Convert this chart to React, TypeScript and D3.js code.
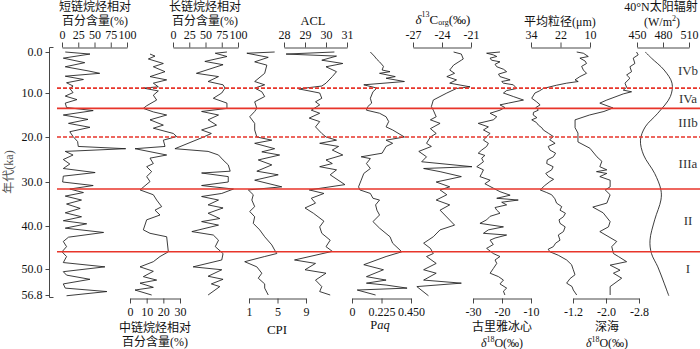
import * as d3 from "d3";
import { useRef, useEffect } from "react";

type Pt = [number, number]; // [age ka, value]

const FONT = "'Liberation Serif','Times New Roman','Noto Sans CJK SC',serif";

// left axis
const ageTicks = [0, 10, 20, 30, 40, 50, 56.8];
// stage boundaries (ka), dashed = sub-stage boundary
const boundaryAges = [8.8, 13.5, 20, 31.6, 46];
const boundaryDashed = [true, false, true, false, false];
const stageNames = ["IVb", "IVa", "IIIb", "IIIa", "II", "I"];

// tick values / labels of each panel
const shortTicks = [0, 25, 50, 75, 100];
const midTicks = [0, 10, 20, 30];
const longTicks = [0, 25, 50, 75, 100];
const cpiTicks = [1, 5, 9];
const aclTicks = [28, 29, 30, 31];
const paqTicks = [0, 0.225, 0.45];
const paqTickLabels = ["0", "0.225", "0.450"];
const d13cTicks = [-27, -24, -21];
const guliyaTicks = [-30, -20, -10];
const grainTicks = [34, 22, 10];
const deepTicks = [-1.2, -2.0, -2.8];
const deepTickLabels = ["-1.2", "-2.0", "-2.8"];
const insolTicks = [450, 480, 510];

// short-chain n-alkanes (%)
const shortChain: Pt[] = [
  [0, 5], [0.5, 43], [1.5, 2], [2.6, 35], [3.6, 5], [4.6, 40], [5.2, 58], [5.9, 5], [6.7, 33],
  [7.5, 7], [8.3, 17], [8.9, 12], [9.9, 17], [10.7, 5], [11.5, 23], [12.3, 5], [13.3, 7], [14.0, 48],
  [15.0, 2], [16.0, 40], [16.9, 10], [17.8, 43], [18.8, 12], [19.9, 17], [21.0, 24], [22.1, 25],
  [22.6, 98], [23.2, 5], [24.0, 17], [25.0, 2], [26.0, 12], [27.0, 2], [27.9, 51], [28.7, 2],
  [30.0, 1], [30.8, 48], [31.6, 12], [32.4, 33], [33.2, 5], [34.1, 30], [35.0, 7], [36.0, 28],
  [37.0, 5], [37.9, 30], [38.8, 2], [39.5, 38], [40.5, 5], [41.5, 64], [42.6, 10], [43.6, 2],
  [44.8, 7], [46.0, 0], [47.1, 7], [48.5, 2], [49.5, 66], [50.7, 2], [51.6, 7], [52.7, 43],
  [53.9, 2], [55.0, 5], [55.9, 69], [57.0, 7],
];

// mid-chain n-alkanes (%)
const midChain: Pt[] = [
  [0.5, 12], [1.0, 15], [1.7, 11], [2.8, 20], [3.6, 14], [4.8, 21], [6.0, 12], [6.8, 22], [7.6, 14],
  [8.5, 17], [8.8, 8], [9.5, 17], [10.5, 14], [11.6, 16], [12.9, 10], [13.5, 8], [14.3, 14],
  [15.0, 22], [16.1, 12], [17.3, 20], [18.0, 14], [19.2, 26], [19.9, 28], [20.7, 20], [22.1, 21],
  [22.6, 3], [24.0, 22], [24.7, 12], [25.9, 14], [26.6, 10], [27.7, 13], [28.8, 10], [29.9, 12],
  [31.8, 6], [32.9, 14], [34.1, 16], [35.6, 19], [36.4, 15], [37.5, 18], [38.6, 10], [40.9, 8],
  [41.7, 12], [42.5, 22], [46.0, 23], [47.1, 18], [48.3, 14], [49.5, 6], [50.6, 14], [52.0, 8],
  [52.9, 16], [53.7, 6], [54.8, 14], [55.5, 3], [56.8, 13],
];

// long-chain n-alkanes (%)
const longChain: Pt[] = [
  [0, 83], [0.3, 65], [1.1, 83], [2.3, 49], [3.1, 77], [5.2, 36], [6.0, 70], [7.2, 54], [8.0, 77],
  [8.8, 80], [10.0, 75], [11.2, 62], [12.3, 83], [13.5, 83], [14.2, 44], [15.0, 70], [16.1, 54],
  [17.3, 67], [18.4, 44], [19.2, 59], [20.0, 47], [22.6, 3], [23.2, 54], [24.0, 70], [25.1, 77],
  [26.2, 85], [27.6, 88], [28.0, 44], [28.8, 85], [30.0, 85], [30.8, 44], [31.6, 93], [32.6, 75],
  [33.3, 44], [34.1, 70], [35.2, 54], [35.9, 77], [37.1, 54], [38.3, 72], [39.0, 44], [39.8, 70],
  [41.3, 29], [42.1, 62], [43.3, 70], [44.8, 65], [46.4, 77], [47.9, 75], [49.5, 31], [50.2, 75],
  [51.9, 54], [52.7, 77], [53.9, 59], [54.6, 72], [56.8, 54],
];

// CPI
const cpi: Pt[] = [
  [0, 4.6], [0.3, 0.7], [1.3, 3.7], [2.4, 1.8], [3.2, 3.5], [5.2, 3.2], [7.2, 1.8], [8.0, 3.2],
  [8.8, 1.8], [9.7, 2.8], [10.8, 3.2], [12.0, 1.8], [13.5, 2.1], [14.2, 1.8], [15.4, 1.1],
  [16.9, 1.8], [18.4, 1.8], [20.0, 2.1], [20.7, 4.2], [21.4, 1.8], [22.6, 4.6], [23.3, 2.8],
  [24.0, 5.3], [25.1, 2.3], [26.2, 4.2], [27.6, 2.1], [28.4, 5.1], [29.6, 1.8], [31.1, 5.6],
  [31.8, 0.9], [32.9, 1.6], [34.1, 1.4], [35.6, 1.8], [36.7, 1.1], [37.9, 1.8], [39.4, 1.6],
  [40.9, 2.5], [42.5, 3.2], [44.4, 4.2], [45.6, 4.6], [46.4, 4.9], [47.1, 3.2], [48.3, 0.4],
  [49.5, 2.1], [51.1, 2.8], [52.4, 2.3], [53.9, 3.2], [55.0, 3.2], [56.8, 3.7],
];

// ACL
const acl: Pt[] = [
  [0, 30.4], [0.5, 28.1], [1.0, 30.5], [2.0, 29.8], [2.8, 30.8], [3.6, 30.0], [4.8, 30.5], [6.0, 30.3],
  [7.6, 30.0], [8.3, 29.8], [9.0, 28.7], [10.0, 29.7], [11.2, 29.8], [12.0, 29.5], [12.7, 29.7],
  [13.9, 29.3], [14.6, 29.7], [15.7, 29.2], [16.5, 29.7], [17.7, 29.5], [19.2, 29.8], [20.0, 30.0],
  [20.7, 30.5], [21.4, 29.7], [22.1, 30.6], [22.9, 30.3], [24.0, 30.8], [25.1, 30.0], [25.9, 30.3],
  [26.6, 29.7], [27.3, 30.5], [28.4, 30.2], [30.6, 30.9], [31.8, 29.2], [32.6, 29.9], [33.7, 29.3],
  [34.8, 29.5], [35.9, 29.0], [37.1, 29.4], [38.9, 29.9], [40.2, 29.7], [41.7, 29.8], [43.3, 30.2],
  [44.8, 30.0], [45.9, 30.3], [47.9, 28.5], [48.7, 29.5], [50.2, 29.0], [51.1, 30.0], [52.9, 29.5],
  [54.6, 29.8], [55.9, 29.7], [56.8, 30.2],
];

// Paq
const paq: Pt[] = [
  [0, 0.14], [1.0, 0.17], [1.8, 0.19], [2.4, 0.21], [3.5, 0.24], [4.4, 0.23], [4.8, 0.29], [5.2, 0.21],
  [6.0, 0.33], [6.4, 0.26], [7.2, 0.40], [8.0, 0.09], [8.8, 0.19], [9.7, 0.16], [11.2, 0.14],
  [12.3, 0.15], [13.1, 0.12], [13.9, 0.11], [14.6, 0.21], [15.4, 0.26], [16.5, 0.28], [17.7, 0.26],
  [18.4, 0.31], [20.0, 0.40], [20.7, 0.26], [21.4, 0.31], [22.1, 0.26], [23.6, 0.23], [24.4, 0.07],
  [24.8, 0.14], [25.9, 0.11], [27.0, 0.14], [28.1, 0.09], [29.6, 0.07], [31.1, 0.05], [31.8, 0.06],
  [32.6, 0.14], [33.7, 0.16], [34.1, 0.21], [35.2, 0.18], [36.4, 0.19], [37.5, 0.21], [39.0, 0.16],
  [40.5, 0.21], [42.5, 0.29], [44.0, 0.31], [46.0, 0.38], [47.1, 0.26], [49.0, 0.09], [50.2, 0.24],
  [52.0, 0.11], [52.9, 0.26], [53.7, 0.11], [54.2, 0.26], [55.0, 0.42], [55.5, 0.04], [56.8, 0.18],
];

// δ13C org (‰)
const d13c: Pt[] = [
  [0, -22.8], [0.5, -22.0], [1.7, -21.8], [2.0, -22.0], [3.2, -22.8], [4.4, -23.2], [5.2, -22.7],
  [6.0, -23.5], [6.8, -22.5], [7.6, -23.2], [8.5, -21.1], [8.9, -22.5], [10.0, -23.5], [11.6, -24.9],
  [13.1, -25.1], [13.9, -24.9], [15.4, -24.6], [16.1, -25.2], [16.9, -24.2], [18.1, -25.2],
  [19.2, -24.6], [20.0, -25.2], [21.4, -25.6], [22.1, -25.1], [23.2, -26.4], [24.4, -25.6],
  [25.5, -26.1], [26.6, -20.9], [27.0, -25.9], [27.7, -24.2], [28.8, -22.0], [30.0, -24.6],
  [31.1, -23.2], [31.8, -24.2], [32.9, -23.5], [34.1, -24.6], [35.2, -23.2], [36.4, -24.2],
  [39.8, -22.7], [40.9, -24.2], [42.5, -24.9], [44.0, -25.9], [45.2, -25.2], [46.4, -24.9],
  [47.1, -25.6], [48.7, -24.6], [50.2, -25.9], [51.1, -24.6], [52.9, -25.9], [53.7, -22.0],
  [54.6, -26.6], [57.0, -25.4],
];

// Guliya ice core δ18O (‰)
const guliya: Pt[] = [
  [0, -20.7], [0.3, -25.3], [0.7, -23.0], [1.1, -21.8], [1.5, -24.1], [2.0, -23.6], [2.4, -20.7],
  [3.0, -22.4], [3.6, -21.8], [4.2, -19.5], [4.8, -18.4], [5.4, -21.2], [6.0, -20.7], [6.4, -18.9],
  [6.8, -17.2], [7.2, -20.1], [7.6, -19.5], [8.0, -16.1], [8.9, -14.9], [9.4, -18.4], [10.0, -19.5],
  [10.8, -16.1], [11.6, -12.6], [12.3, -17.8], [12.7, -20.7], [13.3, -19.0], [13.9, -20.7],
  [14.6, -24.1], [15.4, -21.8], [16.1, -23.0], [16.9, -28.2], [17.7, -24.7], [18.4, -26.4],
  [19.2, -24.1], [19.9, -25.3], [20.7, -26.4], [21.4, -24.7], [22.1, -25.3], [22.9, -27.0],
  [23.6, -28.2], [24.1, -25.9], [24.7, -27.0], [25.5, -26.4], [26.6, -28.7], [27.3, -26.4],
  [28.1, -27.0], [28.8, -27.6], [29.6, -24.1], [30.4, -25.9], [31.4, -23.0], [32.2, -20.7],
  [33.0, -17.2], [33.7, -21.8], [34.1, -14.4], [34.6, -20.1], [35.2, -18.4], [35.8, -22.4],
  [36.4, -21.8], [37.1, -20.7], [37.8, -24.1], [38.6, -25.3], [39.4, -27.6], [40.2, -19.5],
  [40.9, -24.7], [41.7, -26.4], [42.1, -18.4], [42.8, -22.4], [43.3, -24.1], [44.3, -23.0],
  [45.2, -25.3], [46.4, -23.0], [47.1, -20.7], [47.9, -22.4], [48.7, -21.8], [49.9, -23.0],
  [51.1, -24.1], [52.0, -21.2], [52.9, -19.5], [53.9, -20.7], [55.0, -18.4], [55.8, -19.5],
  [56.8, -19.0],
];

// mean grain size (μm)
const grain: Pt[] = [
  [0, 15.4], [0.3, 12.7], [1.1, 10.7], [1.5, 14.1], [2.2, 12.0], [2.8, 11.4], [3.5, 13.4], [4.4, 12.7],
  [5.2, 11.4], [6.0, 14.1], [6.8, 16.1], [7.2, 14.8], [7.6, 19.5], [8.1, 23.6], [8.5, 26.3],
  [8.9, 29.0], [9.5, 30.6], [10.0, 32.4], [11.2, 33.7], [12.0, 31.7], [12.7, 30.3], [13.3, 32.0],
  [13.9, 31.0], [14.4, 33.0], [15.0, 33.1], [15.6, 31.6], [16.1, 33.7], [16.7, 31.8], [17.3, 31.0],
  [17.9, 29.6], [18.4, 29.0], [19.2, 26.8], [19.9, 24.9], [20.6, 26.4], [21.4, 24.2], [22.1, 27.0],
  [22.9, 26.3], [23.6, 24.0], [24.4, 24.9], [25.1, 27.4], [25.9, 27.6], [26.6, 25.0], [27.3, 25.6],
  [28.1, 28.0], [28.8, 26.9], [29.4, 24.8], [29.9, 26.3], [30.8, 28.4], [31.8, 30.3], [32.4, 27.6],
  [32.9, 25.6], [33.8, 24.3], [34.8, 23.6], [35.6, 21.5], [36.4, 22.2], [37.1, 20.0], [37.9, 20.8],
  [38.6, 22.6], [39.4, 22.2], [40.2, 20.1], [41.3, 20.8], [42.1, 22.9], [43.3, 22.2], [44.0, 24.0],
  [44.8, 24.9], [45.4, 27.0], [46.0, 26.3], [46.8, 22.9], [47.9, 19.5], [49.0, 17.5], [50.2, 16.8],
  [51.5, 16.1], [52.5, 18.1], [53.7, 19.5], [54.6, 17.3], [55.5, 16.8], [56.8, 15.4],
];

// deep-sea δ18O (‰)
const deepSea: Pt[] = [
  [0, -2.74], [0.7, -2.78], [1.5, -2.66], [2.8, -2.70], [3.6, -2.58], [4.8, -2.62], [5.6, -2.50],
  [6.4, -2.58], [7.6, -2.46], [8.6, -2.50], [9.3, -2.42], [9.7, -2.62], [10.2, -2.42], [11.6, -2.02],
  [12.3, -1.85], [13.4, -2.17], [14.2, -1.95], [15.0, -1.60], [16.1, -1.25], [17.9, -1.25],
  [19.1, -1.32], [21.1, -1.32], [22.5, -1.61], [24.4, -1.78], [25.4, -1.90], [26.6, -1.85],
  [27.3, -2.02], [27.7, -1.77], [28.1, -2.02], [28.8, -1.85], [29.6, -2.10], [31.1, -2.10],
  [31.8, -1.98], [32.9, -2.10], [34.8, -2.02], [35.7, -1.68], [37.0, -1.93], [39.0, -2.10],
  [40.2, -2.06], [41.3, -1.85], [43.6, -2.26], [44.8, -2.14], [46.4, -2.18], [47.1, -2.30],
  [48.3, -2.50], [49.1, -2.10], [50.3, -2.34], [51.1, -2.18], [52.4, -2.38], [54.6, -2.10],
  [56.8, -2.10],
];

// 40°N summer insolation (W/m²)
const insolation: Pt[] = [
  [0, 459.5], [1.5, 466.7], [4.4, 481.3], [7.6, 490.4], [10.8, 488.5], [14.6, 474], [17.7, 459.5],
  [20.7, 454], [24.0, 457.6], [28.1, 470.4], [31.8, 477.6], [34.1, 477.6], [38.6, 470.4],
  [43.3, 465], [46.4, 466.7], [49.5, 474], [53.7, 481.3], [57, 486.7],
];

const y = d3
  .scaleLinear()
  .domain([0, 10, 20, 30, 40, 50, 56.8])
  .range([52, 93, 137, 182, 226, 269, 295]);

const TOP = 47.5;
const BOTTOM = 298.5;

const panels = [
  { data: shortChain, domain: [0, 100], range: [62, 127], ticks: shortTicks, side: "top" },
  { data: midChain, domain: [0, 30], range: [130, 180], ticks: midTicks, side: "bottom" },
  { data: longChain, domain: [0, 100], range: [173, 238], ticks: longTicks, side: "top" },
  { data: cpi, domain: [1, 9], range: [249, 306], ticks: cpiTicks, side: "bottom" },
  { data: acl, domain: [28, 31], range: [284, 347], ticks: aclTicks, side: "top" },
  { data: paq, domain: [0, 0.45], range: [352, 411], ticks: paqTicks, labels: paqTickLabels, side: "bottom" },
  { data: d13c, domain: [-27, -21], range: [413, 471], ticks: d13cTicks, side: "top" },
  { data: guliya, domain: [-30, -10], range: [473, 531], ticks: guliyaTicks, side: "bottom" },
  { data: grain, domain: [34, 10], range: [531, 590], ticks: grainTicks, side: "top" },
  { data: deepSea, domain: [-1.2, -2.8], range: [573, 639], ticks: deepTicks, labels: deepTickLabels, side: "bottom" },
  { data: insolation, domain: [450, 510], range: [637, 689], ticks: insolTicks, side: "top", smooth: true },
];

function Axis({ x, side, ticks, labels }) {
  const ref = useRef(null);
  useEffect(() => {
    const ax = (side === "top" ? d3.axisTop(x) : d3.axisBottom(x))
      .tickValues(ticks)
      .tickSize(5)
      .tickSizeOuter(0)
      .tickPadding(4)
      .tickFormat((d, i) => (labels ? labels[i] : String(d)));
    const g = d3.select(ref.current).call(ax);
    g.attr("font-family", FONT).attr("font-size", 12);
    g.selectAll("path,line").attr("stroke", "#333").attr("stroke-width", 0.9);
    g.selectAll("text").attr("fill", "#111");
  }, [x, side, ticks, labels]);
  return <g ref={ref} transform={`translate(0,${side === "top" ? TOP : BOTTOM})`} />;
}

function YAxis() {
  const ref = useRef(null);
  useEffect(() => {
    const ax = d3
      .axisLeft(y)
      .tickValues(ageTicks)
      .tickSize(4)
      .tickPadding(3)
      .tickFormat((d) => (+d).toFixed(1));
    const g = d3.select(ref.current).call(ax);
    g.select(".domain").remove();
    g.attr("font-family", FONT).attr("font-size", 12);
    g.selectAll("line").attr("stroke", "#333").attr("stroke-width", 0.9);
    g.selectAll("text").attr("fill", "#111");
  }, []);
  return (
    <g>
      <g ref={ref} transform="translate(49.5,0)" />
      <path d={`M53.5,${TOP}H49.5V${BOTTOM - 1}H53.5`} fill="none" stroke="#333" strokeWidth={0.9} />
    </g>
  );
}

const T = ({ x, y, children, size = 12, anchor = "middle" }) => (
  <text x={x} y={y} fontSize={size} textAnchor={anchor} dominantBaseline="central" fill="#111">
    {children}
  </text>
);

export default function App() {
  const stageEdges = [0, ...boundaryAges, 56.8];
  return (
    <svg
      width={700}
      height={349}
      style={{ position: "absolute", left: 0, top: 0, background: "#fff" }}
      fontFamily={FONT}
    >
      <YAxis />
      <text
        transform={`translate(9,172) rotate(-90)`}
        fontSize={12}
        textAnchor="middle"
        dominantBaseline="central"
        fill="#555"
      >
        年代(ka)
      </text>

      {panels.map((p, i) => {
        const x = d3.scaleLinear().domain(p.domain).range(p.range);
        const line = d3
          .line<Pt>()
          .x((d) => x(d[1]))
          .y((d) => y(d[0]))
          .curve(p.smooth ? d3.curveCatmullRom : d3.curveLinear);
        return (
          <g key={i}>
            <Axis x={x} side={p.side} ticks={p.ticks} labels={p.labels} />
            <path d={line(p.data)} fill="none" stroke="#1a1a1a" strokeWidth={0.85} strokeLinejoin="round" />
          </g>
        );
      })}

      {boundaryAges.map((a, i) => (
        <line
          key={i}
          x1={57}
          x2={700}
          y1={y(a)}
          y2={y(a)}
          stroke="#e8352a"
          strokeWidth={1.6}
          strokeDasharray={boundaryDashed[i] ? "4,2" : undefined}
        />
      ))}

      {stageNames.map((s, i) => (
        <text
          key={s}
          x={688}
          y={(y(stageEdges[i]) + y(stageEdges[i + 1])) / 2 - (i === stageNames.length - 1 ? 5 : 0)}
          fontSize={13}
          textAnchor="middle"
          dominantBaseline="central"
          fill="#333"
        >
          {s}
        </text>
      ))}

      {/* top titles */}
      <T x={95} y={7}>短链烷烃相对</T>
      <T x={95} y={21}>百分含量(%)</T>
      <T x={205} y={7}>长链烷烃相对</T>
      <T x={205} y={21}>百分含量(%)</T>
      <T x={313} y={21} size={12.5}>ACL</T>
      <text x={443} y={19} fontSize={13} textAnchor="middle" dominantBaseline="central" fill="#111">
        <tspan fontStyle="italic">δ</tspan>
        <tspan fontSize={8} dy={-5}>13</tspan>
        <tspan dy={5}>C</tspan>
        <tspan fontSize={8} dy={3}>org</tspan>
        <tspan dy={-3}>(‰)</tspan>
      </text>
      <T x={560} y={22}>平均粒径(μm)</T>
      <T x={661} y={6.5}>40°N太阳辐射</T>
      <text x={662} y={22} fontSize={12} textAnchor="middle" dominantBaseline="central" fill="#111">
        (W/m<tspan fontSize={8} dy={-4}>2</tspan>
        <tspan dy={4}>)</tspan>
      </text>

      {/* bottom titles */}
      <T x={155} y={327.5}>中链烷烃相对</T>
      <T x={155} y={342}>百分含量(%)</T>
      <T x={277} y={329} size={13}>CPI</T>
      <text x={380} y={325} fontSize={12.5} textAnchor="middle" dominantBaseline="central" fill="#111">
        P<tspan fontStyle="italic">aq</tspan>
      </text>
      <T x={502} y={327}>古里雅冰心</T>
      <text x={502} y={342.5} fontSize={12} textAnchor="middle" dominantBaseline="central" fill="#111">
        <tspan fontStyle="italic">δ</tspan>
        <tspan fontSize={8} dy={-4}>18</tspan>
        <tspan dy={4}>O(‰)</tspan>
      </text>
      <T x={607} y={327}>深海</T>
      <text x={607} y={342.5} fontSize={12} textAnchor="middle" dominantBaseline="central" fill="#111">
        <tspan fontStyle="italic">δ</tspan>
        <tspan fontSize={8} dy={-4}>18</tspan>
        <tspan dy={4}>O(‰)</tspan>
      </text>
    </svg>
  );
}
